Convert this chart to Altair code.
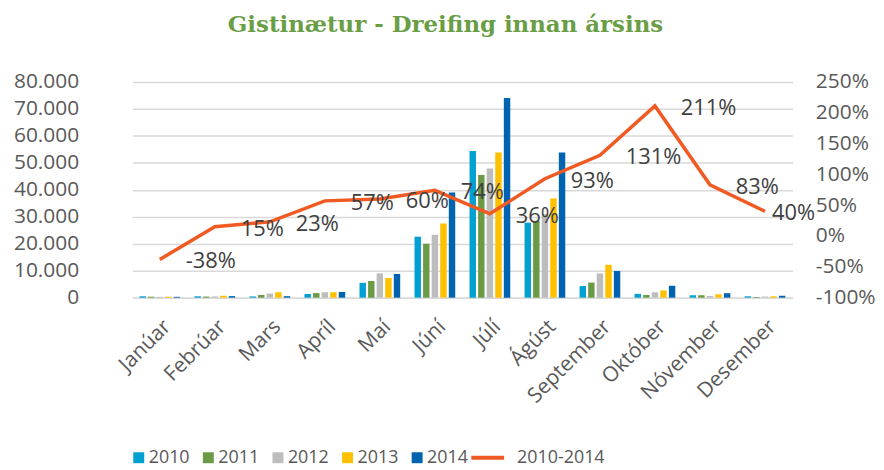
import altair as alt
import pandas as pd

months = ["Janúar", "Febrúar", "Mars", "Apríl", "Maí", "Júní", "Júlí", "Ágúst",
          "September", "Október", "Nóvember", "Desember"]
years = ["2010", "2011", "2012", "2013", "2014"]
v2010 = [500, 500, 450, 1350, 5500, 22600, 54400, 27800, 4300, 1400, 900, 500]
v2011 = [350, 400, 1000, 1700, 6200, 20000, 45500, 28500, 5600, 1000, 900, 250]
v2012 = [300, 450, 1500, 2000, 9000, 23300, 47900, 31000, 9000, 2000, 600, 400]
v2013 = [350, 700, 2000, 2000, 7300, 27500, 53800, 36800, 12200, 2700, 1250, 500]
v2014 = [310, 575, 550, 2100, 8800, 39000, 74000, 53800, 9900, 4400, 1650, 700]
pct = [-38, 15, 23, 57, 60, 74, 36, 93, 131, 211, 83, 40]
line_name = "2010-2014"

colors = ["#00a0d2", "#6a9a46", "#bdbdbd", "#ffc000", "#0063b0"]
line_color = "#f15a22"

rows = []
for yr, vals in zip(years, [v2010, v2011, v2012, v2013, v2014]):
    for m, v in zip(months, vals):
        rows.append({"month": m, "year": yr, "value": v})
bars_df = pd.DataFrame(rows)
line_df = pd.DataFrame({"month": months, "pct": pct, "series": [line_name] * 12})

FONT = "Open Sans"
GRID = "#d9d9d9"
TXT = "#595959"

x_enc = alt.X("month:N", sort=months, title=None,
              scale=alt.Scale(paddingInner=0.26, paddingOuter=0.13),
              axis=alt.Axis(labelAngle=-45, labelFontSize=21, labelColor=TXT, labelFont=FONT,
                            ticks=False, domainColor=GRID, domainWidth=1.5, labelPadding=18,
                            labelOverlap=False))

bars = alt.Chart(bars_df).mark_bar().encode(
    x=x_enc,
    xOffset=alt.XOffset("year:N", sort=years, scale=alt.Scale(paddingInner=0.25)),
    y=alt.Y("value:Q", title=None,
            scale=alt.Scale(domain=[0, 80000]),
            axis=alt.Axis(values=list(range(0, 80001, 10000)),
                          labelExpr="replace(format(datum.value, ','), ',', '.')",
                          labelFontSize=21, labelColor=TXT, labelFont=FONT, labelPadding=54,
                          grid=True, gridColor=GRID, gridWidth=1.5, ticks=False, domain=False)),
    color=alt.Color("year:N", sort=years, scale=alt.Scale(domain=years, range=colors),
                    legend=alt.Legend(title=None, orient="none", direction="horizontal",
                                      legendX=-2.5, legendY=369, symbolType="square",
                                      symbolSize=121, symbolStrokeWidth=0,
                                      labelFontSize=18, labelColor=TXT, labelFont=FONT,
                                      labelOffset=1, columnPadding=9)),
)

y_pct_axis = alt.Axis(values=list(range(-100, 251, 50)), labelExpr="datum.value + '%'",
                      labelFontSize=21, labelColor=TXT, labelFont=FONT, labelPadding=23,
                      grid=False, ticks=False, domain=False, orient="right")
y_pct_scale = alt.Scale(domain=[-100, 250])

line = alt.Chart(line_df).mark_line(strokeWidth=3.5).encode(
    x=alt.X("month:N", sort=months),
    y=alt.Y("pct:Q", title=None, scale=y_pct_scale, axis=y_pct_axis),
    stroke=alt.Stroke("series:N", scale=alt.Scale(domain=[line_name], range=[line_color]),
                      legend=alt.Legend(title=None, orient="none", legendX=348.5, legendY=369,
                                        symbolType="M-3,0H3", symbolSize=121,
                                        symbolStrokeWidth=4, labelFontSize=18,
                                        labelColor=TXT, labelFont=FONT, labelOffset=20.5)),
)

labels = alt.Chart(line_df).transform_filter(
    alt.datum.month != "Desember"
).mark_text(align="left", baseline="middle", dx=26, dy=2, fontSize=22,
            font=FONT, color="#404040").encode(
    x=alt.X("month:N", sort=months),
    y=alt.Y("pct:Q", title=None, scale=y_pct_scale, axis=y_pct_axis),
    text=alt.Text("label:N"),
).transform_calculate(label="datum.pct + '%'")

last_label = alt.Chart(line_df).transform_filter(
    alt.datum.month == "Desember"
).mark_text(align="left", baseline="middle", dx=7, dy=2, fontSize=22,
            font=FONT, color="#404040").encode(
    x=alt.X("month:N", sort=months),
    y=alt.Y("pct:Q", title=None, scale=y_pct_scale, axis=y_pct_axis),
    text=alt.Text("label:N"),
).transform_calculate(label="datum.pct + '%'")

right = alt.layer(line, labels, last_label)

chart = alt.layer(bars, right).resolve_scale(y="independent").properties(
    width=664, height=217,
    padding={"left": 5, "top": 5, "right": 0, "bottom": 0},
    title=alt.TitleParams("Gistinætur - Dreifing innan ársins", font="DejaVu Serif",
                          fontSize=23, fontWeight="bold", color="#6a9e45",
                          anchor="middle", dx=-17, offset=34),
).configure_view(stroke=None)

chart.save("out.html", embed_options={"renderer": "svg", "actions": False})
